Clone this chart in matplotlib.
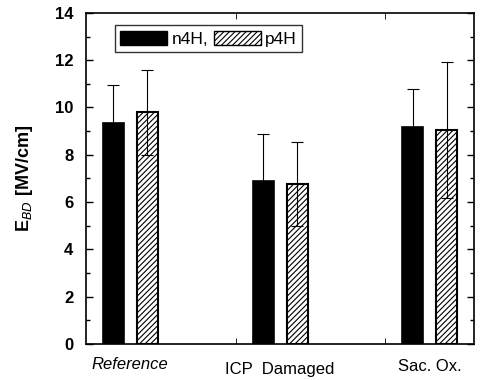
import matplotlib.pyplot as plt
import matplotlib.patches as mpatches
import numpy as np

plt.rcParams['font.family'] = ['Liberation Sans', 'DejaVu Sans']
plt.rcParams['hatch.linewidth'] = 0.8

# data
groups = ['Reference', 'ICP  Damaged', 'Sac. Ox.']
n4h = [9.36, 6.90, 9.17]
n4h_err = [1.58, 1.97, 1.62]
p4h = [9.80, 6.77, 9.05]
p4h_err = [1.80, 1.78, 2.88]

x = np.array([1, 2, 3])
w = 0.14
off = 0.113

fig = plt.figure(figsize=(4.82, 3.8), dpi=100)
ax = fig.add_axes([0.178, 0.095, 0.805, 0.871])

ax.bar(x - off, n4h, w, color='black', edgecolor='black', linewidth=1.2,
       yerr=n4h_err, error_kw=dict(ecolor='black', elinewidth=0.8, capsize=4, capthick=0.8))
ax.bar(x + off, p4h, w, color='white', edgecolor='black', linewidth=1.5, hatch='//////',
       yerr=p4h_err, error_kw=dict(ecolor='black', elinewidth=0.8, capsize=4, capthick=0.8))

ax.set_xlim(0.703, 3.293)
ax.set_ylim(0, 14)
ax.set_yticks(range(0, 15, 2))
ax.set_yticks(range(0, 15, 1), minor=True)
ax.set_xticks([1.703, 2.703], minor=True)
ax.set_xticks([])
ax.tick_params(axis='y', which='both', direction='in', right=True, width=1)
ax.tick_params(axis='y', which='major', length=5, labelsize=12, pad=9)
ax.tick_params(axis='y', which='minor', length=3)
ax.tick_params(axis='x', which='minor', direction='in', top=True, length=4)
for lab in ax.get_yticklabels():
    lab.set_fontweight('bold')
for s in ax.spines.values():
    s.set_linewidth(1.2)

# category labels
ax.text(1, -0.55, groups[0], ha='center', va='top', fontsize=12, style='italic')
ax.text(2, -0.75, groups[1], ha='center', va='top', fontsize=12)
ax.text(3, -0.65, groups[2], ha='center', va='top', fontsize=12)

ax.set_ylabel(r'E$_{BD}$ [MV/cm]', fontsize=13, fontweight='bold', labelpad=14)

h1 = mpatches.Patch(facecolor='black', edgecolor='black', label='n4H,')
h2 = mpatches.Patch(facecolor='white', edgecolor='black', hatch='//////', label='p4H')
leg = ax.legend(handles=[h1, h2], loc='upper left', bbox_to_anchor=(0.075, 0.962), ncol=2,
                fontsize=12.5, frameon=True, fancybox=False, edgecolor='black',
                handlelength=2.7, handleheight=0.9, handletextpad=0.25, columnspacing=0.35,
                borderpad=0.3, borderaxespad=0)
leg.get_frame().set_linewidth(1.0)

plt.savefig('out.png', dpi=100)
